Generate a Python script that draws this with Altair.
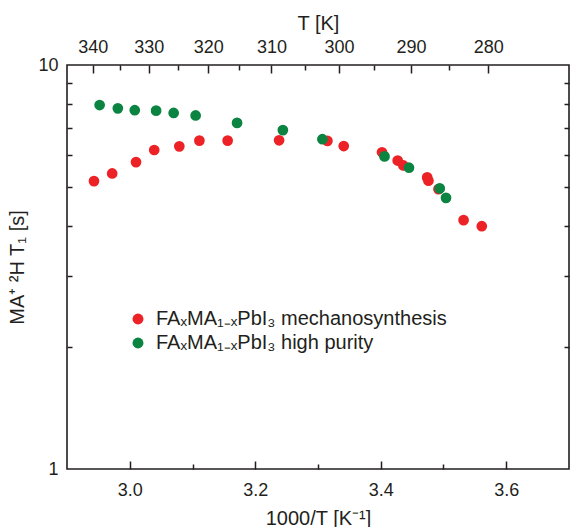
import altair as alt
import pandas as pd

# ---- data ----
mech_x = [2.943, 2.972, 3.010, 3.039, 3.079, 3.111, 3.156, 3.238, 3.315, 3.341,
          3.402, 3.427, 3.436, 3.474, 3.476, 3.492, 3.532, 3.561]
mech_t1 = [5.16, 5.39, 5.75, 6.16, 6.29, 6.50, 6.50, 6.51, 6.49, 6.30,
           6.08, 5.80, 5.64, 5.27, 5.17, 4.93, 4.13, 3.99]
pure_x = [2.952, 2.981, 3.008, 3.042, 3.070, 3.105, 3.171, 3.244, 3.307,
          3.406, 3.445, 3.494, 3.504]
pure_t1 = [7.96, 7.81, 7.73, 7.71, 7.61, 7.50, 7.19, 6.90, 6.55,
           5.94, 5.57, 4.95, 4.69]

series = ["FAₓMA₁₋ₓPbI₃ mechanosynthesis", "FAₓMA₁₋ₓPbI₃ high purity"]
colors = ["#ec2227", "#0b8441"]

x_label_values = [3.0, 3.2, 3.4, 3.6]
x_tick_values = [3.0, 3.1, 3.2, 3.3, 3.4, 3.5, 3.6]
temps_major = [340, 330, 320, 310, 300, 290, 280]
temps_all = [340, 335, 330, 325, 320, 315, 310, 305, 300, 295, 290, 285, 280]
y_label_values = [1, 10]
y_tick_values = [2, 3, 4, 5, 6, 7, 8, 9]

W, H = 502, 404
FONT = "Liberation Sans"
INK = "#231f20"

df = pd.DataFrame({
    "x": mech_x + pure_x,
    "t1": mech_t1 + pure_t1,
    "series": [series[0]] * len(mech_x) + [series[1]] * len(pure_x),
})

xs = alt.Scale(domain=[2.9, 3.7], nice=False, zero=False)
ys = alt.Scale(type="log", domain=[1, 10], nice=False)

base = alt.Chart(df)

tick_common = dict(labels=False, domain=False, grid=False, title=None,
                   tickColor=INK, tickWidth=1.5)

# main points + labelled bottom / left axes
points = base.mark_circle(size=115, opacity=1).encode(
    x=alt.X("x:Q", scale=xs, axis=alt.Axis(
        orient="bottom", values=x_label_values, format=".1f", ticks=False,
        domain=False, grid=False, labelPadding=12, labelFontSize=18,
        title="1000/T [K⁻¹]", titleFontSize=20, titlePadding=9,
        titleFontWeight="normal")),
    y=alt.Y("t1:Q", scale=ys, axis=alt.Axis(
        orient="left", values=y_label_values, format="~g", ticks=False,
        domain=False, grid=False, labelPadding=9, labelFontSize=18,
        title="MA⁺ ²H T₁ [s]", titleFontSize=20, titlePadding=10,
        titleFontWeight="normal")),
    color=alt.Color("series:N", scale=alt.Scale(domain=series, range=colors),
                    legend=alt.Legend(
                        orient="none", legendX=61, legendY=244, title=None,
                        labelFontSize=20, labelLimit=500, symbolType="circle",
                        symbolSize=120, symbolStrokeWidth=0, symbolOpacity=1,
                        rowPadding=4, labelOffset=8, labelColor=INK)),
)

# inward ticks at bottom and left edges
inner1 = base.mark_point(opacity=0).encode(
    x=alt.X("x:Q", scale=xs, axis=alt.Axis(
        orient="top", offset=-H, values=x_tick_values,
        tickSize={"condition": {"test": "abs(datum.value*5 - round(datum.value*5)) < 0.01", "value": 8}, "value": 5},
        **tick_common)),
    y=alt.Y("t1:Q", scale=ys, axis=alt.Axis(
        orient="right", offset=-W, values=y_tick_values, tickSize=5,
        **tick_common)),
)

# inward ticks at top and right edges
inner2 = base.mark_point(opacity=0).encode(
    x=alt.X("x:Q", scale=xs, axis=alt.Axis(
        orient="bottom", offset=-H, values=[1000 / t for t in temps_all],
        tickSize={"condition": {"test": "abs(100/datum.value - round(100/datum.value)) < 0.01", "value": 8}, "value": 5},
        **tick_common)),
    y=alt.Y("t1:Q", scale=ys, axis=alt.Axis(
        orient="left", offset=-W, values=y_tick_values, tickSize=5,
        **tick_common)),
)

# top temperature axis labels
top = base.mark_point(opacity=0).encode(
    x=alt.X("x:Q", scale=xs, axis=alt.Axis(
        orient="top", values=[1000 / t for t in temps_major],
        labelExpr="format(1000/datum.value, '.0f')", ticks=False, domain=False,
        grid=False, labelPadding=9, labelFontSize=18, title="T [K]",
        titleFontSize=20, titlePadding=5, titleFontWeight="normal")),
    y=alt.Y("t1:Q", scale=ys, axis=None),
)

chart = alt.layer(points, inner1, inner2, top).resolve_axis(
    x="independent", y="independent"
).properties(
    width=W, height=H,
    autosize=alt.AutoSizeParams(type="none"),
    padding={"left": 67, "top": 65, "right": 1, "bottom": 58},
).configure(font=FONT).configure_view(
    stroke=INK, strokeWidth=1.6
).configure_axis(
    labelColor=INK, titleColor=INK, labelFont=FONT, titleFont=FONT
).configure_legend(labelFont=FONT)

chart.save("out.html", embed_options={"renderer": "svg", "actions": False})
